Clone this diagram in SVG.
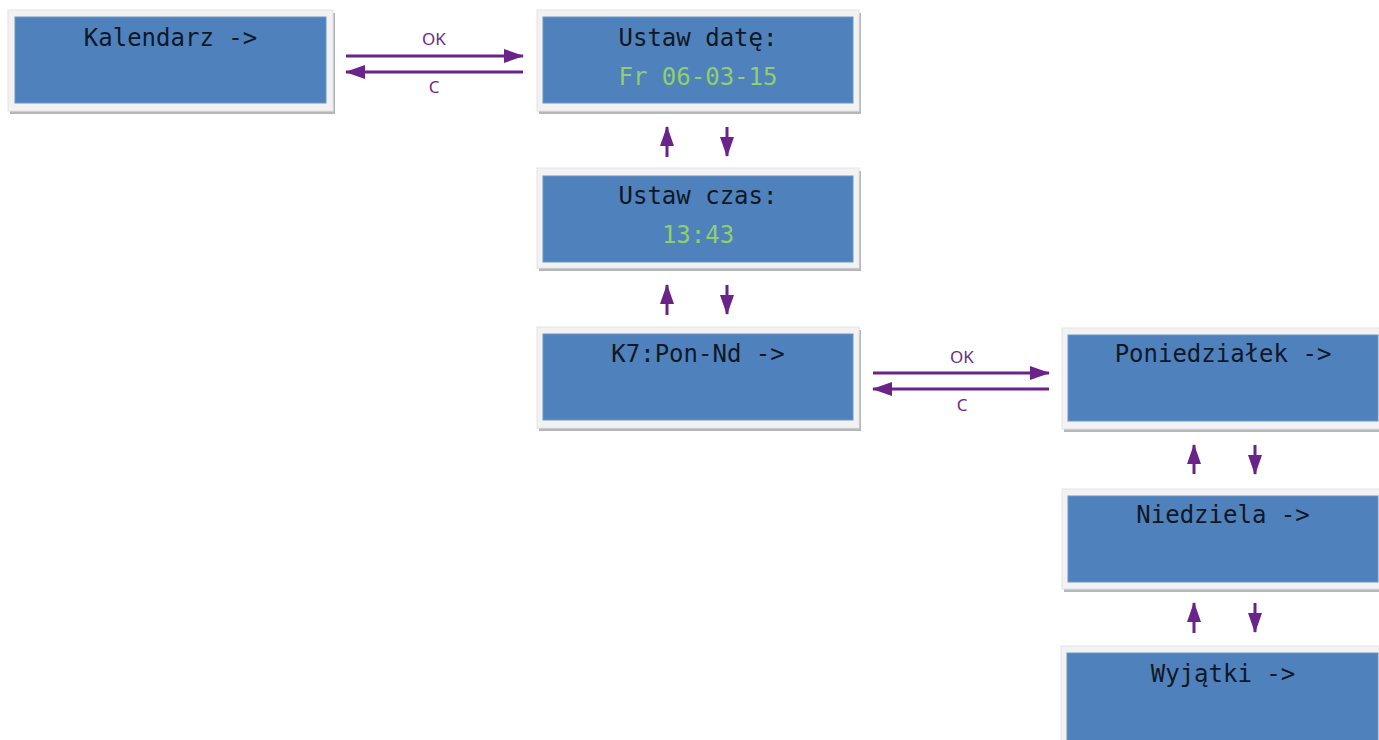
<svg xmlns="http://www.w3.org/2000/svg" width="1379" height="740" viewBox="0 0 1379 740">
<defs>
<style>
.shadow{fill:#b3b6ba}
.frame{fill:#f2f2f2;stroke:#e4e4e4;stroke-width:1}
.screen{fill:#4f81bd;stroke:#6d95c6;stroke-width:1}
.t{font-family:"DejaVu Sans Mono","Liberation Mono",monospace;font-size:24px;fill:#101826;text-anchor:middle}
.g{fill:#8fd06a}
.lbl{font-family:"Noto Sans","Liberation Sans",sans-serif;font-size:17px;fill:#6a2a8c;text-anchor:middle}
.ln{stroke:#6a2388;stroke-width:3;fill:none}
</style>
<marker id="ah" viewBox="0 0 20 14" refX="19" refY="7" markerWidth="20" markerHeight="14" markerUnits="userSpaceOnUse" orient="auto">
<path d="M0,0 L20,7 L0,14 Z" fill="#6a2388"/>
</marker>
</defs>
<rect width="1379" height="740" fill="#ffffff"/>

<g id="node-kalendarz">
<rect class="shadow" x="10" y="13" width="325" height="101"/>
<rect class="frame" x="8" y="10" width="325" height="101"/>
<rect class="screen" x="15" y="17" width="311" height="86"/>
<text class="t" x="170.5" y="46">Kalendarz -&gt;</text>
</g>

<g id="node-ustaw-date">
<rect class="shadow" x="539" y="13" width="322" height="101"/>
<rect class="frame" x="537" y="10" width="322" height="101"/>
<rect class="screen" x="543" y="17" width="310" height="86"/>
<text class="t" x="698" y="46">Ustaw datę:</text>
<text class="t g" x="698" y="85">Fr 06-03-15</text>
</g>

<g id="node-ustaw-czas">
<rect class="shadow" x="539" y="171" width="322" height="100"/>
<rect class="frame" x="537" y="168" width="322" height="100"/>
<rect class="screen" x="543" y="176" width="310" height="86"/>
<text class="t" x="698" y="204">Ustaw czas:</text>
<text class="t g" x="698" y="243">13:43</text>
</g>

<g id="node-k7">
<rect class="shadow" x="539" y="330" width="322" height="101"/>
<rect class="frame" x="537" y="327" width="322" height="101"/>
<rect class="screen" x="543" y="334" width="310" height="86"/>
<text class="t" x="698" y="362">K7:Pon-Nd -&gt;</text>
</g>

<g id="node-poniedzialek">
<rect class="shadow" x="1064" y="331" width="320" height="101"/>
<rect class="frame" x="1062" y="328" width="320" height="101"/>
<rect class="screen" x="1068" y="335" width="310" height="86"/>
<text class="t" x="1223" y="362">Poniedziałek -&gt;</text>
</g>

<g id="node-niedziela">
<rect class="shadow" x="1064" y="492" width="320" height="100"/>
<rect class="frame" x="1062" y="489" width="320" height="100"/>
<rect class="screen" x="1068" y="496" width="310" height="86"/>
<text class="t" x="1223" y="523">Niedziela -&gt;</text>
</g>

<g id="node-wyjatki">
<rect class="frame" x="1061" y="646" width="321" height="100"/>
<rect class="screen" x="1067" y="653" width="311" height="90"/>
<text class="t" x="1223" y="682">Wyjątki -&gt;</text>
</g>

<g id="connectors">
<line class="ln" x1="346" y1="56" x2="523" y2="56" marker-end="url(#ah)"/>
<line class="ln" x1="523" y1="72" x2="346" y2="72" marker-end="url(#ah)"/>
<text class="lbl" x="434" y="45">OK</text>
<text class="lbl" x="434" y="93">C</text>

<line class="ln" x1="873" y1="373" x2="1049" y2="373" marker-end="url(#ah)"/>
<line class="ln" x1="1049" y1="389" x2="873" y2="389" marker-end="url(#ah)"/>
<text class="lbl" x="962" y="363">OK</text>
<text class="lbl" x="962" y="411">C</text>

<line class="ln" x1="667" y1="157" x2="667" y2="127" marker-end="url(#ah)"/>
<line class="ln" x1="727" y1="127" x2="727" y2="156" marker-end="url(#ah)"/>
<line class="ln" x1="667" y1="315" x2="667" y2="285" marker-end="url(#ah)"/>
<line class="ln" x1="727" y1="285" x2="727" y2="314" marker-end="url(#ah)"/>

<line class="ln" x1="1194" y1="474" x2="1194" y2="445" marker-end="url(#ah)"/>
<line class="ln" x1="1255" y1="445" x2="1255" y2="474" marker-end="url(#ah)"/>
<line class="ln" x1="1194" y1="633" x2="1194" y2="603" marker-end="url(#ah)"/>
<line class="ln" x1="1255" y1="603" x2="1255" y2="632" marker-end="url(#ah)"/>
</g>
</svg>
